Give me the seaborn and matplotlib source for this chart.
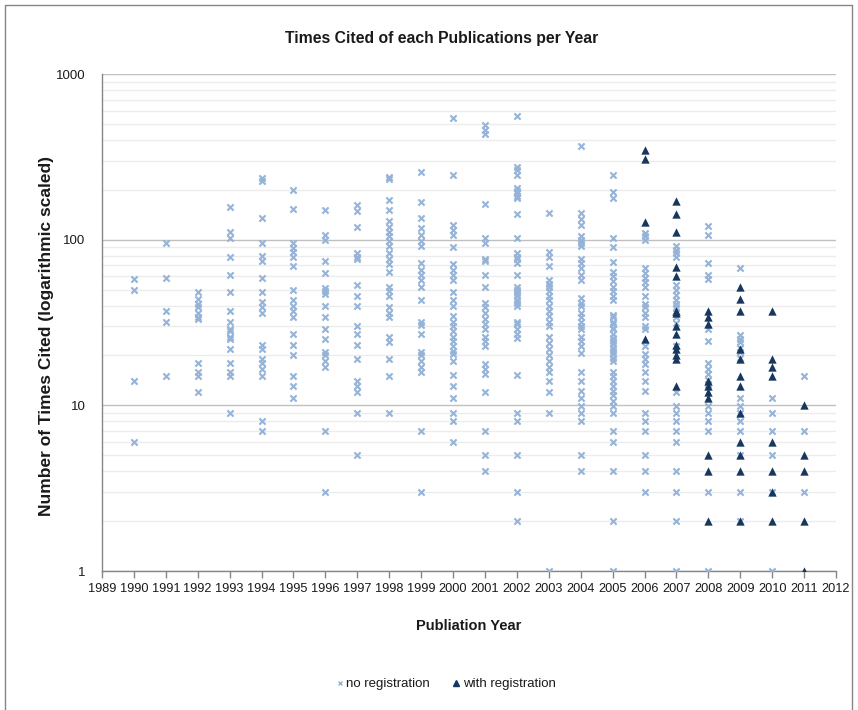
import matplotlib
matplotlib.use("Agg")
import matplotlib.pyplot as plt
import matplotlib.ticker as mticker
from matplotlib.lines import Line2D
import numpy as np
import pandas as pd
import seaborn as sns

# Times cited per publication, by publication year (no registration)
no_reg = {
    1990: [58, 50, 14, 6],
    1991: [96, 59, 37, 32, 15],
    1992: [48, 44, 41, 39, 36, 34, 33, 18, 16, 15, 12],
    1993: [157, 112, 102, 79, 61, 48, 37, 32, 29, 28, 26, 25, 22, 18, 16, 15, 9],
    1994: [235, 225, 136, 96, 80, 74, 59, 48, 42, 39, 36, 23, 22, 19, 18, 16.5, 15, 8, 7],
    1995: [200, 154, 96, 89, 84, 79, 69, 50, 43, 40, 37, 34, 27, 23, 20, 15, 13, 11],
    1996: [152, 106, 100, 74, 63, 51, 49, 47, 40, 34, 29, 25, 21, 20, 18.5, 17, 7, 3],
    1997: [161, 148, 120, 83, 79, 76, 53, 46, 40, 30, 27, 23, 19, 14, 13, 12, 9, 5],
    1998: [240, 232, 174, 152, 129, 120, 112, 105, 98, 91, 83, 76, 71, 64, 52, 49,
           46, 39, 36, 34, 26, 24, 19, 15, 9],
    1999: [255, 168, 135, 118, 107, 98, 91, 72, 66, 61.5, 57, 52, 43, 32, 30.5, 27,
           21, 20, 18.5, 17, 16, 7, 3],
    2000: [545, 246, 123, 115, 107, 90, 71, 66, 61.5, 57, 48, 43.5, 40, 34.5, 32, 30,
           28, 26, 24.4, 22.8, 21.2, 20.3, 18.5, 15.2, 13, 11, 9, 8, 6],
    2001: [493, 460, 435, 165, 102, 96, 76, 74, 61.5, 51.6, 41.6, 39, 36, 33, 30.8,
           28.7, 26, 24.4, 22.8, 17.7, 16.5, 15.4, 12.1, 7, 5, 4],
    2002: [558, 276, 264, 246, 205, 198, 191, 184, 178, 143, 102, 83, 79, 76, 72,
           61.5, 52, 50, 47.7, 45.6, 43.5, 41.5, 39.6, 32, 30.8, 28.7, 26.8, 25.4,
           15.2, 9, 8, 5, 3, 2],
    2003: [145, 84, 79, 69, 57, 54, 52, 49, 45.6, 43, 40, 37, 34.5, 32, 30, 26, 23.7,
           22, 20, 18.5, 17, 16, 14, 12, 9, 1],
    2004: [368, 145, 133, 123, 105, 100, 96, 91, 76, 72, 67.5, 61.5, 57, 44.5, 41.6,
           40, 36, 34.3, 32, 30, 28.7, 26, 24.4, 22.8, 20.6, 16, 14, 12.2, 11, 9.9,
           9, 8, 5, 4],
    2005: [246, 195, 178, 102, 90, 73, 64, 60, 56, 52, 49, 46, 43.5, 35.3, 34, 32,
           31, 29.3, 28.7, 27, 25.4, 24.4, 23.3, 22.3, 21.2, 20.3, 19.4, 18.5, 16,
           15, 14, 13, 12.2, 11.5, 10.6, 9.9, 9, 7, 6, 4, 2, 1],
    2006: [110, 105, 100, 67.5, 63, 59, 55.5, 52, 46, 41, 39, 36, 34.3, 30, 28.7,
           22.8, 20.3, 19, 17.7, 16, 14, 12.2, 9, 8, 7, 5, 4, 3],
    2007: [91, 87, 83, 78.5, 53.6, 50, 46.6, 43.5, 41, 39, 36, 34, 31.6, 22.8, 12.1,
           9.9, 9, 8, 7, 6, 4, 3, 2, 1],
    2008: [121, 106, 72, 61.5, 58, 28.7, 24.4, 17.9, 16.6, 15.4, 14.3, 13.4, 9.9, 9,
           8, 7, 3, 1],
    2009: [67, 26.4, 25, 24, 22.3, 21, 19.4, 11, 9.9, 9, 8, 7, 5, 3, 2],
    2010: [11, 9, 7, 5, 3, 1],
    2011: [15, 7, 3],
}

# Times cited per publication, by publication year (with registration)
with_reg = {
    2006: [349, 308, 128, 25],
    2007: [172, 143, 112, 68, 60, 37, 36, 30, 27, 23, 22, 20, 19, 13],
    2008: [37, 34, 31, 14, 13, 12, 11, 5, 4, 2],
    2009: [52, 44, 37, 22, 19, 15, 13, 9, 6, 5, 4, 2],
    2010: [37, 19, 17, 15, 6, 4, 3, 2],
    2011: [10, 5, 4, 2, 1],
}

year_ticks = list(range(1989, 2013))
group_names = ["no registration", "with registration"]

rows = []
for name, table in zip(group_names, [no_reg, with_reg]):
    for yr, vals in table.items():
        for v in vals:
            rows.append({"year": yr, "cited": v, "group": name})
df = pd.DataFrame(rows)

sns.set_theme(style="white")
plt.rcParams["font.family"] = ["Liberation Sans", "DejaVu Sans"]

light = "#95B3D7"
navy = "#17375E"
text_col = "#1A1A1A"

fig = plt.figure(figsize=(8.58, 7.10), dpi=100)
ax = fig.add_axes([102 / 858, 1 - 571 / 710, (836 - 102) / 858, (571 - 74) / 710])

sns.scatterplot(data=df[df.group == group_names[0]], x="year", y="cited",
                marker="x", color=light, s=20, linewidth=1.5, ax=ax, zorder=3)
sns.scatterplot(data=df[df.group == group_names[1]], x="year", y="cited",
                marker="^", color=navy, s=36, linewidth=0, ax=ax, zorder=4)

ax.set_yscale("log")
ax.set_ylim(1, 1000)
ax.set_xlim(1989, 2012)
ax.set_xticks(year_ticks)
ax.set_xticklabels([str(y) for y in year_ticks], fontsize=9.2, color=text_col)
ax.yaxis.set_major_locator(mticker.FixedLocator([1, 10, 100, 1000]))
ax.yaxis.set_major_formatter(mticker.FixedFormatter(["1", "10", "100", "1000"]))
ax.yaxis.set_minor_locator(mticker.LogLocator(base=10, subs=np.arange(2, 10)))
ax.yaxis.set_minor_formatter(mticker.NullFormatter())
ax.tick_params(axis="y", which="both", length=0, labelsize=9.5, pad=12,
               labelcolor=text_col)
ax.tick_params(axis="x", which="major", length=5, width=1, color="#868686",
               direction="out", bottom=True, pad=4)

ax.grid(True, which="major", axis="y", color="#C0C0C0", linewidth=1.0, zorder=0)
ax.grid(True, which="minor", axis="y", color="#ECECEC", linewidth=1.0, zorder=0)
ax.grid(False, axis="x")
ax.set_axisbelow(True)

for side in ["top", "right"]:
    ax.spines[side].set_visible(False)
for side in ["left", "bottom"]:
    ax.spines[side].set_color("#868686")
    ax.spines[side].set_linewidth(1.0)

ax.set_xlabel("Publiation Year", fontsize=10.5, fontweight="bold",
              color=text_col, labelpad=17)
ax.set_ylabel("Number of Times Cited (logarithmic scaled)", fontsize=12.5,
              fontweight="bold", color=text_col)
ax.yaxis.set_label_coords(-0.066, 0.473)
if ax.get_legend():
    ax.get_legend().remove()

fig.text(442 / 858, 1 - 38 / 710, "Times Cited of each Publications per Year",
         ha="center", va="center", fontsize=11.3, fontweight="bold", color=text_col)

handles = [
    Line2D([], [], marker="x", color=light, linestyle="none", markersize=3.5,
           markeredgewidth=1.0),
    Line2D([], [], marker="^", color=navy, linestyle="none", markersize=5),
]
fig.legend(handles, group_names, loc="center", bbox_to_anchor=(445 / 858, 1 - 684 / 710),
           ncol=2, frameon=False, fontsize=9.5, handletextpad=0.1,
           columnspacing=1.6, handlelength=0.8, labelcolor=text_col)

# Chart frame: left, top and right edges
frame_kw = dict(color="#868686", linewidth=1.0, transform=fig.transFigure)
fig.add_artist(Line2D([5 / 858, 5 / 858], [0, 1 - 5 / 710], **frame_kw))
fig.add_artist(Line2D([5 / 858, 852 / 858], [1 - 5 / 710, 1 - 5 / 710], **frame_kw))
fig.add_artist(Line2D([852 / 858, 852 / 858], [0, 1 - 5 / 710], **frame_kw))

fig.savefig("out.png", dpi=100)
